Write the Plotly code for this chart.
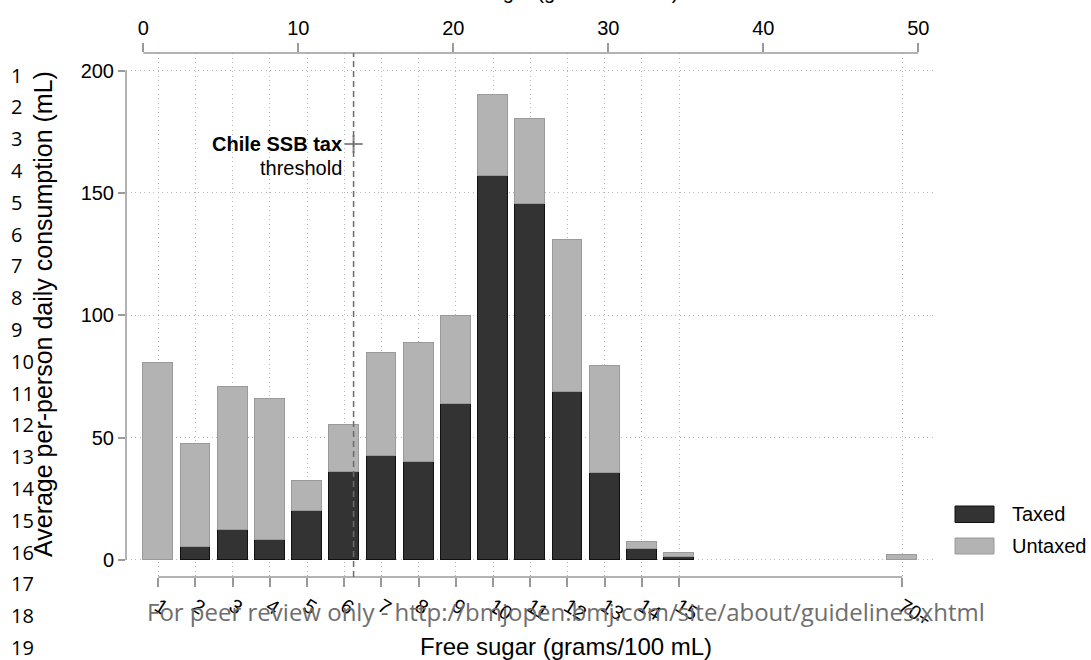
import plotly.graph_objects as go

# Free sugar bands (grams/100 mL) and their slot on the category axis
categories = ["1", "2", "3", "4", "5", "6", "7", "8", "9", "10",
              "11", "12", "13", "14", "15", "70+"]
cat_pos = [1, 2, 3, 4, 5, 6, 7, 8, 9, 10, 11, 12, 13, 14, 15, 21]

# Average per-person daily consumption (mL)
taxed = [0, 5.4, 12.1, 8.3, 20.0, 36.0, 42.5, 40.1, 63.9, 157.1,
         145.5, 68.5, 35.7, 4.6, 1.1, 0]
untaxed = [80.4, 42.0, 58.6, 57.4, 12.4, 19.0, 42.2, 48.5, 35.7, 33.1,
           34.9, 62.4, 43.6, 2.6, 1.8, 2.0]

y_ticks = [0, 50, 100, 150, 200]
top_ticks = [0, 10, 20, 30, 40, 50]

threshold = 6.25          # Chile SSB tax threshold (g/100 mL)
threshold_mark_y = 170    # height of the label marker on the threshold line

W, H = 1091, 660
L, R, T, B = 126, 156, 53, 83
PW, PH = W - L - R, H - T - B


def px_x(px):
    return (px - L) / PW


def px_y(py):
    return (H - B - py) / PH


AXIS_FONT = "Liberation Sans, Arial, sans-serif"
SIDE_FONT = "Open Sans, Noto Sans, sans-serif"
AXIS_GREY = "#9a9a9a"
GRID = "#b8b8b8"
GRID_DASH = "1px,3.5px"

fig = go.Figure()

fig.add_bar(x=cat_pos, y=taxed, name="Taxed", width=0.8,
            marker=dict(color="#333333", line=dict(color="#111111", width=1)),
            showlegend=False)
fig.add_bar(x=cat_pos, y=untaxed, name="Untaxed", width=0.8,
            marker=dict(color="#b3b3b3", line=dict(color="#9a9a9a", width=1)),
            showlegend=False)

# marker sitting on the threshold line next to its label
fig.add_scatter(x=[threshold], y=[threshold_mark_y], mode="markers",
                marker=dict(symbol="cross-thin", size=13,
                            line=dict(color="#8a8a8a", width=2)),
                showlegend=False, hoverinfo="skip")

# keeps the secondary (top) axis alive
fig.add_scatter(x=[top_ticks[0]], y=[None], xaxis="x2", mode="markers",
                showlegend=False, hoverinfo="skip")

fig.update_layout(
    width=W, height=H,
    margin=dict(l=L, r=R, t=T, b=B, autoexpand=False),
    paper_bgcolor="white", plot_bgcolor="white",
    barmode="stack", bargap=0,
    font=dict(family=AXIS_FONT, size=20, color="#000000"),
    xaxis=dict(
        range=[0.132, 21.88], tickmode="array", tickvals=cat_pos,
        ticktext=categories, tickangle=32,
        ticks="outside", ticklen=9, tickwidth=1.5, tickcolor=AXIS_GREY,
        showline=False, zeroline=False,
        showgrid=True, gridcolor=GRID, griddash=GRID_DASH, gridwidth=1,
        tickfont=dict(size=20, family=AXIS_FONT),
    ),
    xaxis2=dict(
        overlaying="x", side="top", anchor="y",
        range=[-1.116, 51.08], tickmode="array", tickvals=top_ticks,
        ticks="outside", ticklen=9, tickwidth=1.5, tickcolor=AXIS_GREY,
        showline=False, zeroline=False, showgrid=False,
        tickfont=dict(size=20, family=AXIS_FONT),
    ),
    yaxis=dict(
        range=[-6.95, 207.2], tickmode="array", tickvals=y_ticks,
        ticks="outside", ticklen=7, tickwidth=1.5, tickcolor=AXIS_GREY,
        showline=False, zeroline=False,
        showgrid=True, gridcolor=GRID, griddash=GRID_DASH, gridwidth=1,
        tickfont=dict(size=20, family=AXIS_FONT),
    ),
)

shapes = [
    # left axis spine, only over the labelled range
    dict(type="line", xref="paper", yref="y", x0=0, x1=0,
         y0=y_ticks[0], y1=y_ticks[-1], line=dict(color=AXIS_GREY, width=1.5)),
    # bottom axis spine from first to last band
    dict(type="line", xref="x", yref="paper", x0=cat_pos[0], x1=cat_pos[-1],
         y0=0, y1=0, line=dict(color=AXIS_GREY, width=1.5)),
    # top axis spine
    dict(type="line", xref="x2", yref="paper", x0=top_ticks[0], x1=top_ticks[-1],
         y0=1, y1=1, line=dict(color=AXIS_GREY, width=1.5)),
    # tax threshold
    dict(type="line", xref="x", yref="paper", x0=threshold, x1=threshold,
         y0=0, y1=1, line=dict(color="#6a6a6a", width=1.5, dash="6px,4px")),
    # legend keys
    dict(type="rect", xref="paper", yref="paper",
         x0=px_x(955), x1=px_x(994), y0=px_y(522.5), y1=px_y(506),
         fillcolor="#333333", line=dict(color="#111111", width=1)),
    dict(type="rect", xref="paper", yref="paper",
         x0=px_x(955), x1=px_x(994), y0=px_y(554), y1=px_y(538),
         fillcolor="#b3b3b3", line=dict(color="#9a9a9a", width=1)),
]
fig.update_layout(shapes=shapes)

ann = []
# threshold label
ann.append(dict(x=threshold, y=threshold_mark_y, xref="x", yref="y",
                text="<b>Chile SSB tax</b>", showarrow=False,
                xanchor="right", yanchor="middle", xshift=-10,
                font=dict(size=20, family=AXIS_FONT, color="#000000")))
ann.append(dict(x=threshold, y=threshold_mark_y, xref="x", yref="y",
                text="threshold", showarrow=False,
                xanchor="right", yanchor="middle", xshift=-10, yshift=-24,
                font=dict(size=20, family=AXIS_FONT, color="#000000")))

# legend labels
ann.append(dict(x=px_x(1010), y=px_y(514), xref="paper", yref="paper",
                text="Taxed", showarrow=False, xanchor="left", yanchor="middle",
                font=dict(size=20, family=AXIS_FONT)))
ann.append(dict(x=px_x(1010), y=px_y(546), xref="paper", yref="paper",
                text="Untaxed", showarrow=False, xanchor="left", yanchor="middle",
                font=dict(size=20, family=AXIS_FONT)))

# axis titles
ann.append(dict(x=px_x(566), y=px_y(646), xref="paper", yref="paper",
                text="Free sugar (grams/100 mL)", showarrow=False,
                xanchor="center", yanchor="middle",
                font=dict(size=24, family=AXIS_FONT)))
ann.append(dict(x=px_x(556), y=px_y(-8), xref="paper", yref="paper",
                text="Free sugar (grams/100 mL)", showarrow=False,
                xanchor="center", yanchor="middle",
                font=dict(size=20, family=AXIS_FONT)))
ann.append(dict(x=px_x(43), y=px_y(314), xref="paper", yref="paper",
                text="Average per-person daily consumption (mL)",
                showarrow=False, textangle=-90,
                xanchor="center", yanchor="middle",
                font=dict(size=25, family=AXIS_FONT)))

# page line numbers
for i in range(19):
    ann.append(dict(x=px_x(9), y=px_y(75 + i * 31.8), xref="paper", yref="paper",
                    text=str(i + 1), showarrow=False,
                    xanchor="left", yanchor="middle",
                    font=dict(size=20, family=SIDE_FONT, color="#000000")))

# review footer
ann.append(dict(x=px_x(566), y=px_y(611), xref="paper", yref="paper",
                text="For peer review only - http://bmjopen.bmj.com/site/about/guidelines.xhtml",
                showarrow=False, xanchor="center", yanchor="middle",
                font=dict(size=24, family=SIDE_FONT, color="#6e6e6e")))

fig.update_layout(annotations=ann)

fig.write_html("out.html")
